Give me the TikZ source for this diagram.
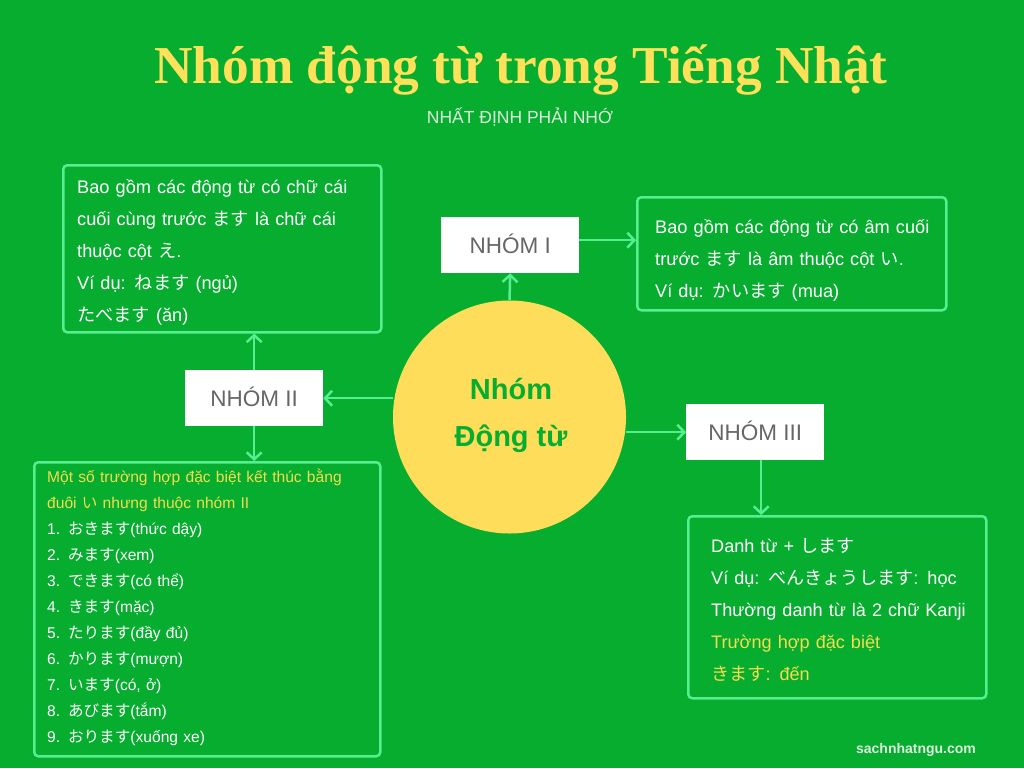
\documentclass[tikz,border=0pt]{standalone}
\usepackage{fontspec}
\setmainfont{Liberation Sans}
\newfontfamily\titlefont{Liberation Serif}
\newfontfamily\jpfont{Noto Sans CJK JP}
\newcommand{\jpt}[1]{{\jpfont #1}}
\usetikzlibrary{arrows.meta}
\definecolor{bg}{HTML}{06AD2F}
\definecolor{ttl}{HTML}{FFE05A}
\definecolor{circ}{HTML}{FEDD5A}
\definecolor{edge}{HTML}{57EE90}
\definecolor{hl}{HTML}{F4DD4E}
\definecolor{graytxt}{HTML}{666666}
\definecolor{sub}{HTML}{DCEEDC}
\tikzset{
  box/.style={draw=edge, line width=2.5pt, rounded corners=4pt, anchor=north west, inner sep=0pt},
  grp/.style={fill=white, draw=none, anchor=north west, inner sep=0pt, text=graytxt,
    font=\fontsize{22.5}{24}\selectfont, text height=16pt, text depth=0pt},
  arr/.style={draw=edge, line width=2.5pt, -{Straight Barb[length=7pt,width=15pt,line width=2.5pt]}},
  body/.style={anchor=base west, inner sep=0pt, text=white, align=left, text width=340pt}
}
\begin{document}
\begin{tikzpicture}[x=1pt,y=-1pt]
\fill[bg] (0,0) rectangle (1024,768);
\useasboundingbox (0,0) rectangle (1024,768);

\node[anchor=base, inner sep=0pt, text=ttl, font=\titlefont\bfseries\fontsize{53.3}{60}\selectfont] (title) at (521,83) {Nhóm động từ trong Tiếng Nhật};
\node[anchor=base, inner sep=0pt, text=sub, font=\fontsize{17.5}{20}\selectfont] (subtitle) at (520,123) {NHẤT ĐỊNH PHẢI NHỚ};

% center circle
\node[circle, fill=circ, minimum size=233pt, inner sep=0pt] (c) at (509.5,417) {};
\node[anchor=base, inner sep=0pt, text=bg, font=\bfseries\fontsize{29}{47}\selectfont, align=center] (ct) at (511,446) {Nhóm\\Động từ};

% group boxes
\node[grp, minimum width=138pt, minimum height=56pt] (g1) at (441,217) {NHÓM I};
\node[grp, minimum width=138pt, minimum height=56pt] (g2) at (185,370) {NHÓM II};
\node[grp, minimum width=138pt, minimum height=56pt] (g3) at (686,404) {NHÓM III};

% description boxes
\node[box, minimum width=318pt, minimum height=167pt] (d2) at (62,164) {};
\node[box, minimum width=309pt, minimum height=113pt] (d1) at (636,196) {};
\node[box, minimum width=346pt, minimum height=294pt] (d2b) at (33,461) {};
\node[box, minimum width=298pt, minimum height=182pt] (d3) at (687,515) {};

% texts
\node[body, font=\fontsize{18.2}{32}\selectfont] (d2t) at (77,193) {Bao gồm các động từ có chữ cái\\cuối cùng trước \jpt{ます} là chữ cái\\thuộc cột \jpt{え}.\\Ví dụ: \jpt{ねます} (ngủ)\\\jpt{たべます} (ăn)};

\node[body, font=\fontsize{18.2}{32}\selectfont] (d1t) at (655,233) {Bao gồm các động từ có âm cuối\\trước \jpt{ます} là âm thuộc cột \jpt{い}.\\Ví dụ: \jpt{かいます} (mua)};

\node[body, font=\fontsize{15.6}{26}\selectfont] (d2bt) at (47,482) {\textcolor{hl}{Một số trường hợp đặc biệt kết thúc bằng}\\\textcolor{hl}{đuôi \jpt{い} nhưng thuộc nhóm II}\\1. \jpt{おきます}(thức dậy)\\2. \jpt{みます}(xem)\\3. \jpt{できます}(có thể)\\4. \jpt{きます}(mặc)\\5. \jpt{たります}(đầy đủ)\\6. \jpt{かります}(mượn)\\7. \jpt{います}(có, ở)\\8. \jpt{あびます}(tắm)\\9. \jpt{おります}(xuống xe)};

\node[body, font=\fontsize{18.1}{32}\selectfont] (d3t) at (711,552) {Danh từ + \jpt{します}\\Ví dụ: \jpt{べんきょうします}: học\\Thường danh từ là 2 chữ Kanji\\\textcolor{hl}{Trường hợp đặc biệt}\\\textcolor{hl}{\jpt{きます}: đến}};

\node[anchor=base, inner sep=0pt, text=sub, font=\bfseries\fontsize{14}{16}\selectfont] (site) at (916,753) {sachnhatngu.com};

% connectors
\draw[arr] (c.north) -- (g1.south);
\draw[arr] ([yshift=5pt]g1.east) -- ([yshift=5pt]g1.east -| d1.west);
\draw[arr] (c.west |- g2.east) -- (g2.east);
\draw[arr] (g2.north) -- (g2.north |- d2.south);
\draw[arr] (g2.south) -- (g2.south |- d2b.north);
\draw[arr] (c.east |- g3.west) -- (g3.west);
\draw[arr] ([xshift=6pt]g3.south) -- ([xshift=6pt]g3.south |- d3.north);
\end{tikzpicture}
\end{document}
